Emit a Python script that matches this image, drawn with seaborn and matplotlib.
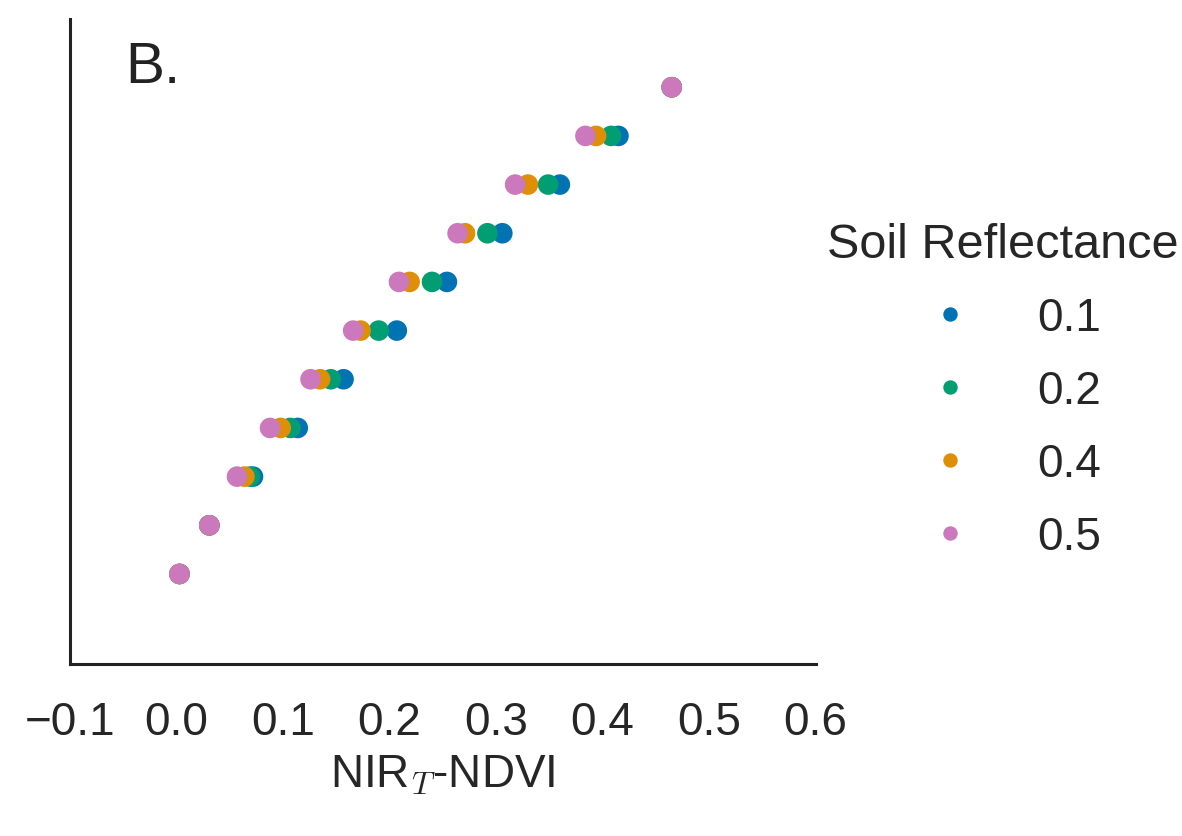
import numpy as np
import pandas as pd
import seaborn as sns
import matplotlib
matplotlib.use('Agg')
import matplotlib.pyplot as plt

# rows of the plot (no y tick labels in the original)
row_pos = [0.0, 0.1, 0.2, 0.3, 0.4, 0.5, 0.6, 0.7, 0.8, 0.9, 1.0]

# NIR_T-NDVI values, one list per soil reflectance
nir_01 = [0.003, 0.031, 0.072, 0.114, 0.157, 0.207, 0.254, 0.306, 0.360, 0.415, 0.465]
nir_02 = [0.003, 0.031, 0.069, 0.107, 0.145, 0.190, 0.240, 0.292, 0.349, 0.408, 0.465]
nir_04 = [0.003, 0.031, 0.064, 0.098, 0.135, 0.173, 0.219, 0.271, 0.330, 0.394, 0.465]
nir_05 = [0.003, 0.031, 0.057, 0.088, 0.126, 0.166, 0.209, 0.264, 0.318, 0.384, 0.465]

soil_levels = ['0.1', '0.2', '0.4', '0.5']
xticks = [-0.1, 0.0, 0.1, 0.2, 0.3, 0.4, 0.5, 0.6]

frames = []
for lvl, vals in zip(soil_levels, [nir_01, nir_02, nir_04, nir_05]):
    frames.append(pd.DataFrame({'nir': vals, 'row': row_pos, 'soil': lvl}))
df = pd.concat(frames, ignore_index=True)

sns.set_style('white')
plt.rcParams['font.family'] = ['Liberation Sans', 'DejaVu Sans']
plt.rcParams['mathtext.fontset'] = 'cm'
plt.rcParams['axes.unicode_minus'] = True

cb = sns.color_palette('colorblind')
pal = {'0.1': cb[0], '0.2': cb[2], '0.4': cb[1], '0.5': cb[4]}

fig = plt.figure(figsize=(11.82, 8.37), dpi=100)
ax = fig.add_axes([0.059, 0.2055, 0.631, 0.7705])

sns.scatterplot(data=df, x='nir', y='row', hue='soil', hue_order=soil_levels,
                palette=pal, s=220, linewidth=0, ax=ax, legend=True)

ax.set_xlim(-0.1, 0.6)
ax.set_ylim(-0.185, 1.14)
ax.set_xticks(xticks)
ax.set_xticklabels([f'{t:.1f}'.replace('-', '\u2212') for t in xticks], fontsize=33)
ax.set_yticks([])
ax.set_ylabel('')
ax.set_xlabel(r'NIR$_T$-NDVI', fontsize=33, labelpad=6)
ax.tick_params(axis='x', length=0, pad=26)
for side in ['top', 'right']:
    ax.spines[side].set_visible(False)
for side in ['left', 'bottom']:
    ax.spines[side].set_color('#222222')
    ax.spines[side].set_linewidth(2.2)

ax.text(0.074, 0.925, 'B.', transform=ax.transAxes, fontsize=42, va='center', ha='left', color='#222222')

handles, labels = ax.get_legend_handles_labels()
ax.legend_.remove()
leg = fig.legend(handles, labels, title='Soil Reflectance', loc='center',
                 bbox_to_anchor=(0.848, 0.532), frameon=False, fontsize=33,
                 title_fontsize=35, markerscale=0.7, labelspacing=0.63,
                 handletextpad=0.9)

fig.savefig('out.png', dpi=100)
